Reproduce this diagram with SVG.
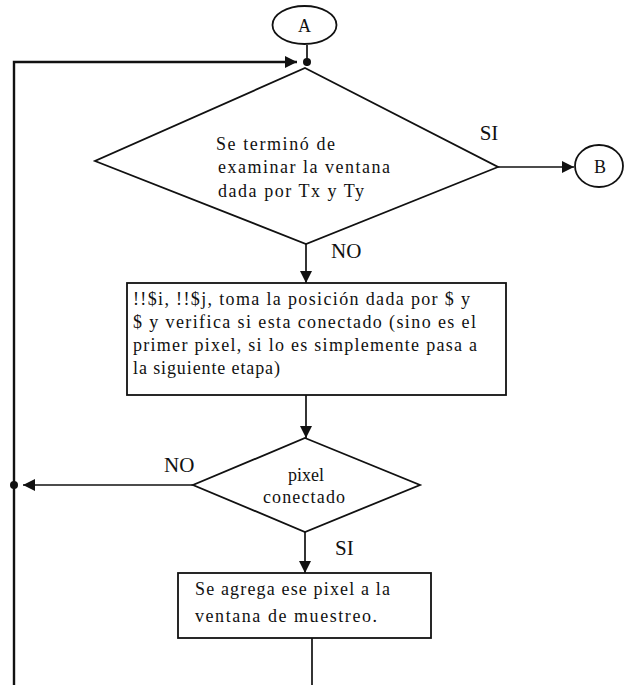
<svg xmlns="http://www.w3.org/2000/svg" width="624" height="685" viewBox="0 0 624 685">
  <style>
    .shape { fill: #ffffff; stroke: #111111; stroke-width: 1.8; }
    .wire { fill: none; stroke: #111111; stroke-width: 1.7; }
    .txt { font-family: "Liberation Serif", "Times New Roman", serif; font-size: 18px; fill: #111111; }
    .lbl { font-family: "Liberation Serif", "Times New Roman", serif; font-size: 21px; fill: #111111; }
    .dot { fill: #111111; }
  </style>
  <defs>
    <marker id="arrow" markerUnits="userSpaceOnUse" markerWidth="14" markerHeight="14" viewBox="0 0 14 14" refX="13" refY="7" orient="auto">
      <path d="M1,1 L13,7 L1,13 Z" fill="#111111"/>
    </marker>
  </defs>

  <rect width="624" height="685" fill="#ffffff"/>

  <!-- connectors -->
  <g id="connectors">
    <path class="wire" d="M14,685 V62 H297" style="stroke-width:2.4" marker-end="url(#arrow)"/>
    <path class="wire" d="M307,45 V66"/>
    <circle class="dot" cx="307" cy="62" r="4"/>
    <path class="wire" d="M306,244 V283" marker-end="url(#arrow)"/>
    <path class="wire" d="M498,167 H574" marker-end="url(#arrow)"/>
    <path class="wire" d="M306,395 V438" marker-end="url(#arrow)"/>
    <path class="wire" d="M193,485 H23" marker-end="url(#arrow)"/>
    <circle class="dot" cx="14" cy="485" r="4"/>
    <path class="wire" d="M305,532 V573" marker-end="url(#arrow)"/>
    <path class="wire" d="M312,638 V685"/>
    <text class="lbl" x="489" y="140" text-anchor="middle">SI</text>
    <text class="lbl" x="331" y="258">NO</text>
    <text class="lbl" x="164" y="472">NO</text>
    <text class="lbl" x="335" y="555">SI</text>
  </g>

  <!-- connector A -->
  <g id="connA">
    <ellipse class="shape" cx="304.5" cy="25" rx="32" ry="19"/>
    <text class="txt" x="304.5" y="32" text-anchor="middle">A</text>
  </g>

  <!-- decision: window finished -->
  <g id="decision1">
    <polygon class="shape" points="305,68 498,167 306,244 95,161"/>
    <text class="txt" x="216" y="150" textLength="119" lengthAdjust="spacing">Se terminó de</text>
    <text class="txt" x="218" y="173" textLength="172" lengthAdjust="spacing">examinar la ventana</text>
    <text class="txt" x="218" y="197" textLength="146" lengthAdjust="spacing">dada por Tx y Ty</text>
  </g>

  <!-- connector B -->
  <g id="connB">
    <ellipse class="shape" cx="599" cy="166" rx="24" ry="21"/>
    <text class="txt" x="600" y="173" text-anchor="middle">B</text>
  </g>

  <!-- process: move to next position -->
  <g id="step1">
    <rect class="shape" x="127" y="283" width="379" height="112"/>
    <text class="txt" x="133" y="305" textLength="337" lengthAdjust="spacing">!!$i, !!$j, toma la posición dada por $ y</text>
    <text class="txt" x="133" y="328" textLength="343" lengthAdjust="spacing">$ y verifica si esta conectado (sino es el</text>
    <text class="txt" x="133" y="351" textLength="344" lengthAdjust="spacing">primer pixel, si lo es simplemente pasa a</text>
    <text class="txt" x="133" y="374" textLength="147" lengthAdjust="spacing">la siguiente etapa)</text>
  </g>

  <!-- decision: pixel connected -->
  <g id="decision2">
    <polygon class="shape" points="305,438 420,485 305,532 193,485"/>
    <text class="txt" x="306" y="481" text-anchor="middle">pixel</text>
    <text class="txt" x="304" y="503" text-anchor="middle" textLength="82" lengthAdjust="spacing">conectado</text>
  </g>

  <!-- process: add pixel to window -->
  <g id="step2">
    <rect class="shape" x="178" y="573" width="253" height="65"/>
    <text class="txt" x="195" y="595" textLength="195" lengthAdjust="spacing">Se agrega ese pixel a la</text>
    <text class="txt" x="195" y="622" textLength="182" lengthAdjust="spacing">ventana de muestreo.</text>
  </g>
</svg>
